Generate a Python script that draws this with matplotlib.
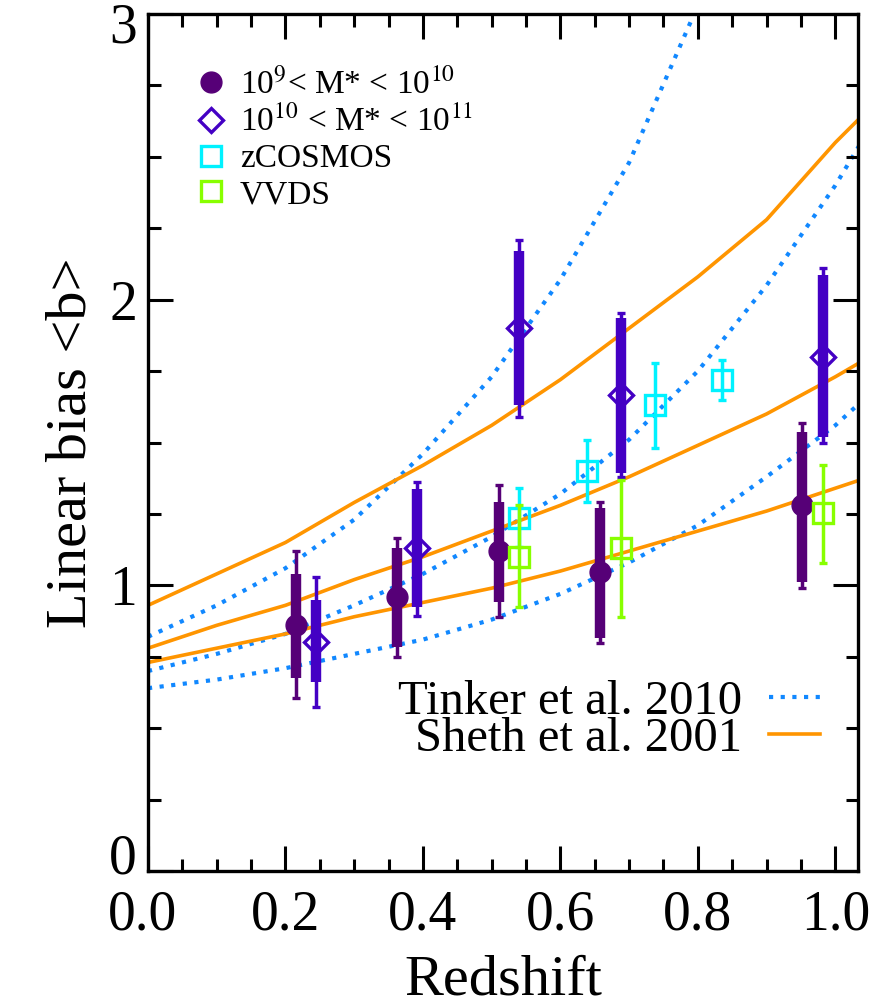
import matplotlib
matplotlib.use("Agg")
import matplotlib.pyplot as plt
import matplotlib.transforms as mtrans
from matplotlib.lines import Line2D
from matplotlib.ticker import MultipleLocator
import numpy as np

plt.rcParams['font.family'] = ['Liberation Serif', 'DejaVu Serif']
plt.rcParams['mathtext.fontset'] = 'stix'

# ---- model curves ----
z_model = [0.0, 0.1, 0.2, 0.3, 0.4, 0.5, 0.6, 0.7, 0.8, 0.9, 1.0, 1.05]
sheth_hi = [0.93, 1.04, 1.15, 1.29, 1.42, 1.56, 1.72, 1.90, 2.08, 2.28, 2.55, 2.67]
sheth_mid = [0.78, 0.86, 0.93, 1.02, 1.10, 1.19, 1.28, 1.38, 1.49, 1.60, 1.73, 1.80]
sheth_lo = [0.73, 0.78, 0.83, 0.89, 0.94, 0.99, 1.05, 1.12, 1.19, 1.26, 1.34, 1.38]
z_steep = [0.0, 0.1, 0.2, 0.3, 0.4, 0.5, 0.6, 0.7, 0.8, 0.85]
tinker_hi = [0.82, 0.93, 1.06, 1.23, 1.46, 1.73, 2.07, 2.48, 3.03, 3.35]
tinker_mid = [0.70, 0.76, 0.83, 0.93, 1.04, 1.17, 1.32, 1.51, 1.75, 2.05, 2.40, 2.60]
tinker_lo = [0.64, 0.67, 0.71, 0.76, 0.81, 0.88, 0.97, 1.08, 1.21, 1.38, 1.56, 1.67]

# ---- 1e9 < M* < 1e10 (filled circles) ----
low_z = [0.215, 0.363, 0.511, 0.658, 0.952]
low_b = [0.86, 0.96, 1.12, 1.045, 1.28]
low_stat_lo = [0.675, 0.784, 0.94, 0.815, 1.01]
low_stat_hi = [1.04, 1.13, 1.29, 1.27, 1.537]
low_tot_lo = [0.605, 0.75, 0.89, 0.798, 0.99]
low_tot_hi = [1.12, 1.166, 1.35, 1.29, 1.57]

# ---- 1e10 < M* < 1e11 (open diamonds) ----
high_z = [0.244, 0.392, 0.54, 0.688, 0.982]
high_b = [0.80, 1.13, 1.90, 1.667, 1.80]
high_stat_lo = [0.66, 0.925, 1.63, 1.393, 1.52]
high_stat_hi = [0.949, 1.337, 2.17, 1.935, 2.086]
high_tot_lo = [0.574, 0.892, 1.59, 1.38, 1.50]
high_tot_hi = [1.03, 1.36, 2.21, 1.953, 2.11]

# ---- zCOSMOS ----
zc_z = [0.54, 0.638, 0.737, 0.835]
zc_b = [1.235, 1.40, 1.63, 1.72]
zc_lo = [1.135, 1.29, 1.48, 1.65]
zc_hi = [1.34, 1.51, 1.78, 1.79]

# ---- VVDS ----
vv_z = [0.54, 0.688, 0.982]
vv_b = [1.10, 1.13, 1.253]
vv_lo = [0.925, 0.89, 1.078]
vv_hi = [1.28, 1.37, 1.42]

x_ticks = [0.0, 0.2, 0.4, 0.6, 0.8, 1.0]
x_ticklabels = ['0.0', '0.2', '0.4', '0.6', '0.8', '1.0']
y_ticks = [0, 1, 2, 3]
y_ticklabels = ['0', '1', '2', '3']

c_low = '#560077'
c_high = '#4400C4'
c_zc = '#00F2FF'
c_vv = '#88FF00'
c_tink = '#1188FF'
c_sheth = '#FF9500'

fig = plt.figure(figsize=(8.71, 10.08), dpi=100)
ax = fig.add_axes([148/871, 1-871/1008, 710/871, 857/1008])

dot = (0, (1, 1.8))
for yy in (tinker_lo, tinker_mid):
    ax.plot(z_model, yy, color=c_tink, lw=3.0, ls=dot, dash_capstyle='butt', zorder=1)
ax.plot(z_steep, tinker_hi, color=c_tink, lw=3.0, ls=dot, dash_capstyle='butt', zorder=1)
for yy in (sheth_lo, sheth_mid, sheth_hi):
    ax.plot(z_model, yy, color=c_sheth, lw=2.6, zorder=1)

def bars(x, y, lo, hi, color, lw, cap, z):
    x = np.asarray(x); y = np.asarray(y)
    err = [y - np.asarray(lo), np.asarray(hi) - y]
    ax.errorbar(x, y, yerr=err, fmt='none', ecolor=color, elinewidth=lw,
                capsize=cap, capthick=2.4, zorder=z)

# low mass
bars(low_z, low_b, low_tot_lo, low_tot_hi, c_low, 2.5, 3.0, 3)
bars(low_z, low_b, low_stat_lo, low_stat_hi, c_low, 7.5, 0, 3)
ax.plot(low_z, low_b, 'o', color=c_low, ms=15, zorder=4)
# high mass
bars(high_z, high_b, high_tot_lo, high_tot_hi, c_high, 2.5, 3.0, 3)
bars(high_z, high_b, high_stat_lo, high_stat_hi, c_high, 7.5, 0, 3)
ax.plot(high_z, high_b, 'D', mfc='none', mec=c_high, mew=2.4, ms=12, zorder=4)
# zCOSMOS
bars(zc_z, zc_b, zc_lo, zc_hi, c_zc, 2.5, 3.0, 3)
ax.plot(zc_z, zc_b, 's', mfc='none', mec=c_zc, mew=2.4, ms=14, zorder=4)
# VVDS
bars(vv_z, vv_b, vv_lo, vv_hi, c_vv, 2.5, 3.0, 5)
ax.plot(vv_z, vv_b, 's', mfc='none', mec=c_vv, mew=2.4, ms=14, zorder=5)

ax.set_xlim(0, 1.033)
ax.set_ylim(0, 3)
ax.set_xticks(x_ticks)
ax.set_xticklabels(x_ticklabels)
ax.set_yticks(y_ticks)
ax.set_yticklabels(y_ticklabels)
ax.xaxis.set_minor_locator(MultipleLocator(0.05))
ax.yaxis.set_minor_locator(MultipleLocator(0.25))
ax.tick_params(which='both', direction='in', top=True, right=True, width=2.2)
ax.tick_params(which='major', length=18)
ax.tick_params(which='minor', length=9)
ax.tick_params(axis='x', labelsize=40, pad=13)
ax.tick_params(axis='y', labelsize=40, pad=8)
for s in ax.spines.values():
    s.set_linewidth(2.4)

# IDL-style nudges of the end tick labels
ylabs = ax.get_yticklabels()
ylabs[0].set_transform(ylabs[0].get_transform() + mtrans.ScaledTranslation(0, 18/100, fig.dpi_scale_trans))
ylabs[-1].set_transform(ylabs[-1].get_transform() + mtrans.ScaledTranslation(0, -8/100, fig.dpi_scale_trans))
xlabs = ax.get_xticklabels()
xlabs[0].set_transform(xlabs[0].get_transform() + mtrans.ScaledTranslation(-6/100, 0, fig.dpi_scale_trans))

ax.set_xlabel('Redshift', fontsize=42, labelpad=10)
ax.set_ylabel('Linear bias <b>', fontsize=42, labelpad=8)

h1 = [Line2D([], [], ls='none', marker='o', color=c_low, ms=15),
      Line2D([], [], ls='none', marker='D', mfc='none', mec=c_high, mew=2.4, ms=12),
      Line2D([], [], ls='none', marker='s', mfc='none', mec=c_zc, mew=2.4, ms=14),
      Line2D([], [], ls='none', marker='s', mfc='none', mec=c_vv, mew=2.4, ms=14)]
l1 = [r'10$^{9}$< M* < 10$^{10}$', r'10$^{10}$ < M* < 10$^{11}$', 'zCOSMOS', 'VVDS']
leg1 = ax.legend(h1, l1, loc='upper left', bbox_to_anchor=(0.0658, 0.936), frameon=False,
                 fontsize=24, handlelength=0.95, handletextpad=0.4, labelspacing=0.16,
                 borderpad=0, borderaxespad=0)
ax.add_artist(leg1)

h2 = [Line2D([], [], color=c_tink, lw=3.0, ls=dot, dash_capstyle='butt'),
      Line2D([], [], color=c_sheth, lw=2.6)]
l2 = ['Tinker et al. 2010', 'Sheth et al. 2001']
ax.legend(h2, l2, loc='center right', bbox_to_anchor=(0.946, 0.1756), frameon=False,
          fontsize=35, handlelength=1.05, handletextpad=0.55, labelspacing=-0.16,
          markerfirst=False, borderpad=0, borderaxespad=0)

fig.savefig('out.png', dpi=100)
